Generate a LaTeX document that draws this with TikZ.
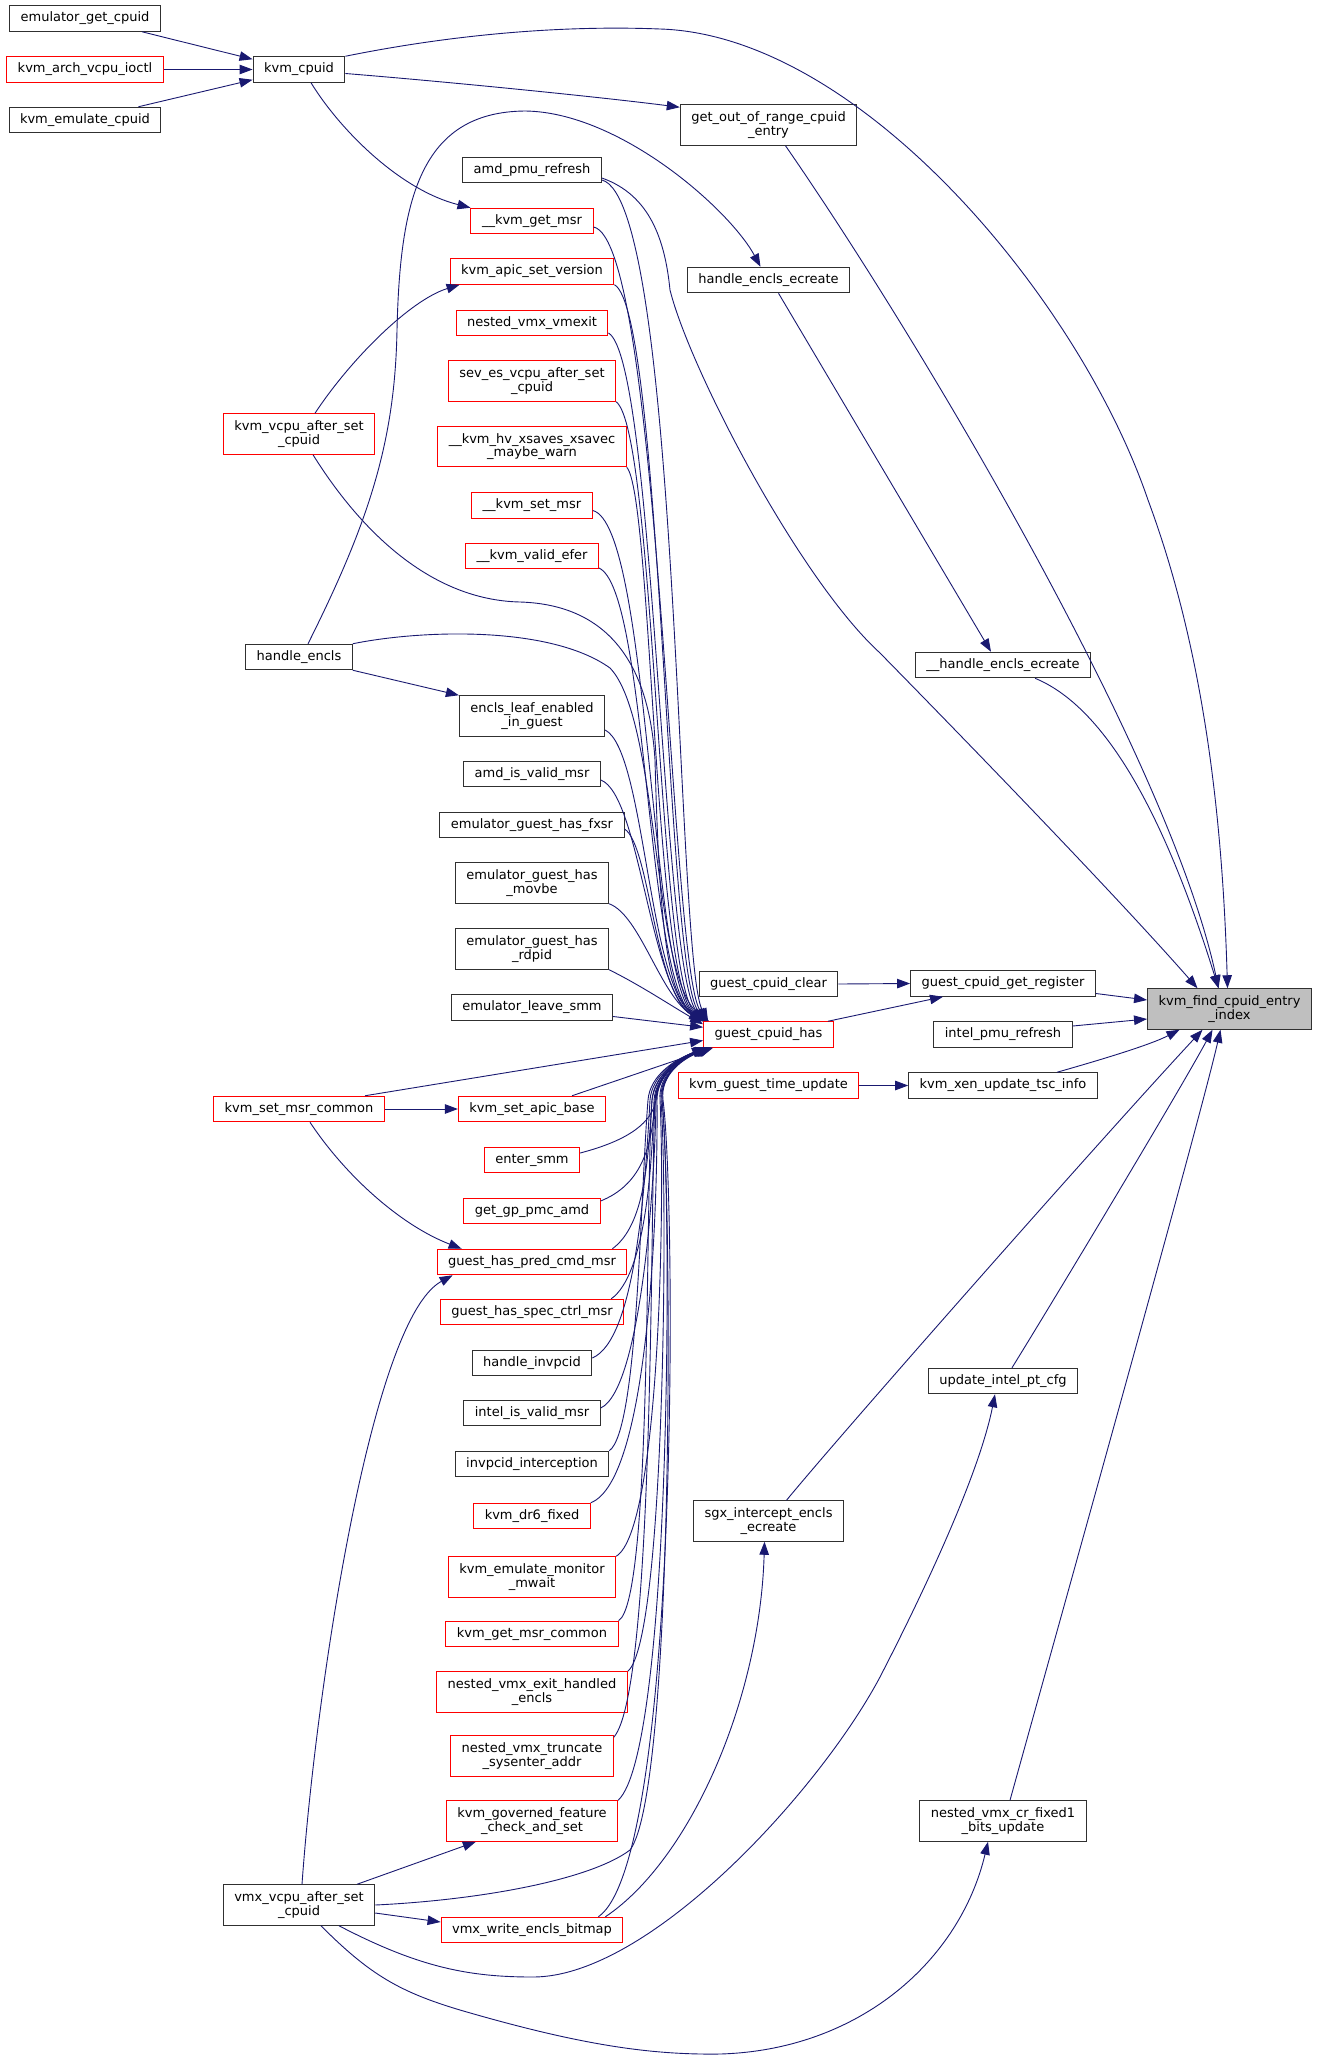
\documentclass[tikz,border=0pt]{standalone}
\usepackage{fontspec}
\setmainfont{DejaVu Sans}
\usetikzlibrary{arrows.meta,calc}
\definecolor{edgeblue}{HTML}{191970}
\definecolor{nodered}{HTML}{FF0000}
\definecolor{nodeblack}{HTML}{303030}
\definecolor{rootgray}{HTML}{BFBFBF}
\newcommand\nodefont{\fontsize{13}{13.4}\selectfont}
\tikzset{
  nb/.style={draw=nodeblack, fill=white, line width=1pt, font=\nodefont,
    inner xsep=11pt, inner ysep=0pt, minimum height=25.5pt, align=center},
  nr/.style={nb, draw=nodered},
  two/.style={minimum height=40.5pt},
  rootnode/.style={nb, fill=rootgray, two},
  e/.style={draw=edgeblue, line width=0.9pt, -{Triangle[length=13pt,width=9.5pt]}},
}
\begin{document}
\begin{tikzpicture}[x=1pt,y=-1pt]
\useasboundingbox (0,0) rectangle (1317,2058);
% column 5
\node[nb] (e1) at (85,18.5) {emulator\_get\_cpuid};
\node[nr] (e2) at (85,69.5) {kvm\_arch\_vcpu\_ioctl};
\node[nb] (e3) at (85,120) {kvm\_emulate\_cpuid};
% column 4
\node[nb] (kc) at (299,69.5) {kvm\_cpuid};
\node[nr,two] (kv) at (299,434) {kvm\_vcpu\_after\_set\\\_cpuid};
\node[nb] (he) at (299,657) {handle\_encls};
\node[nr] (ks) at (299,1109) {kvm\_set\_msr\_common};
\node[nb,two] (vv) at (299,1905) {vmx\_vcpu\_after\_set\\\_cpuid};
% column 3
\node[nb] (ap) at (532,170) {amd\_pmu\_refresh};
\node[nr] (gm) at (532,221) {\_\_kvm\_get\_msr};
\node[nr] (av) at (532,271.5) {kvm\_apic\_set\_version};
\node[nr] (nv) at (532,323) {nested\_vmx\_vmexit};
\node[nr,two] (se) at (532,381) {sev\_es\_vcpu\_after\_set\\\_cpuid};
\node[nr,two] (hv) at (532,446.5) {\_\_kvm\_hv\_xsaves\_xsavec\\\_maybe\_warn};
\node[nr] (sm) at (532,505.5) {\_\_kvm\_set\_msr};
\node[nr] (ve) at (532,556) {\_\_kvm\_valid\_efer};
\node[nb,two] (el) at (532,716) {encls\_leaf\_enabled\\\_in\_guest};
\node[nb] (ai) at (532,774) {amd\_is\_valid\_msr};
\node[nb] (fx) at (532,825) {emulator\_guest\_has\_fxsr};
\node[nb,two] (mb) at (532,883) {emulator\_guest\_has\\\_movbe};
\node[nb,two] (rd) at (532,949) {emulator\_guest\_has\\\_rdpid};
\node[nb] (ls) at (532,1007.5) {emulator\_leave\_smm};
\node[nr] (ab) at (532,1109) {kvm\_set\_apic\_base};
\node[nr] (es) at (532,1160) {enter\_smm};
\node[nr] (gp) at (532,1211) {get\_gp\_pmc\_amd};
\node[nr] (pc) at (532,1262) {guest\_has\_pred\_cmd\_msr};
\node[nr] (sc) at (532,1312) {guest\_has\_spec\_ctrl\_msr};
\node[nb] (hi) at (532,1363) {handle\_invpcid};
\node[nb] (iv) at (532,1413) {intel\_is\_valid\_msr};
\node[nb] (ii) at (532,1464) {invpcid\_interception};
\node[nr] (dr) at (532,1516) {kvm\_dr6\_fixed};
\node[nr,two] (mw) at (532,1577) {kvm\_emulate\_monitor\\\_mwait};
\node[nr] (gc) at (532,1634) {kvm\_get\_msr\_common};
\node[nr,two] (xe) at (532,1692) {nested\_vmx\_exit\_handled\\\_encls};
\node[nr,two] (tr) at (532,1756) {nested\_vmx\_truncate\\\_sysenter\_addr};
\node[nr,two] (gf) at (532,1821) {kvm\_governed\_feature\\\_check\_and\_set};
\node[nr] (wb) at (532,1930) {vmx\_write\_encls\_bitmap};
% column 2
\node[nb,two] (go) at (768.5,125) {get\_out\_of\_range\_cpuid\\\_entry};
\node[nb] (hc) at (768.5,280) {handle\_encls\_ecreate};
\node[nb] (cl) at (768.5,984) {guest\_cpuid\_clear};
\node[nr] (gh) at (768.5,1034.5) {guest\_cpuid\_has};
\node[nr] (gt) at (768.5,1085.5) {kvm\_guest\_time\_update};
\node[nb,two] (sx) at (768.5,1521) {sgx\_intercept\_encls\\\_ecreate};
% column 1
\node[nb] (hh) at (1003,665) {\_\_handle\_encls\_ecreate};
\node[nb] (gr) at (1003,983.5) {guest\_cpuid\_get\_register};
\node[nb] (ip) at (1003,1034.5) {intel\_pmu\_refresh};
\node[nb] (xu) at (1003,1085.5) {kvm\_xen\_update\_tsc\_info};
\node[nb] (ut) at (1003,1381) {update\_intel\_pt\_cfg};
\node[nb,two] (nf) at (1003,1821) {nested\_vmx\_cr\_fixed1\\\_bits\_update};
% root
\node[rootnode] (kf) at (1229.5,1009) {kvm\_find\_cpuid\_entry\\\_index};

% ---- edges: top-left cluster
\draw[e] ([xshift=-19pt]e1.south east) -- ([yshift=-3pt]kc.north west);
\draw[e] (e2.east) -- (kc.west);
\draw[e] ([xshift=-23pt]e3.north east) -- ([yshift=3pt]kc.south west);
\draw[e] ([yshift=-4pt]kc.east) .. controls (450,82) and (600,97) .. ([yshift=-3pt]go.north west);
\draw[e] ([xshift=12pt]kc.south) .. controls (340,130) and (400,190) .. (gm.north west);
\draw[e] (kc.north east) .. controls (450,35) and (560,25) .. (660,29)
  .. controls (860,35) and (1080,300) .. (1148,500)
  .. controls (1200,640) and (1222,800) .. ([xshift=-2pt]kf.north);
\draw[e] ([xshift=17pt]go.south) .. controls (920,340) and (1170,760) .. ([xshift=-11pt]kf.north);
\draw[e] ([xshift=10pt]hc.south) -- ([xshift=-12pt]hh.north);
\draw[e] ([xshift=32pt]hh.south) .. controls (1100,705) and (1160,800) .. ([xshift=-11pt]kf.north);
\draw[e] ([xshift=9pt]he.north) .. controls (370,520) and (395,440) .. (397,330)
  .. controls (400,200) and (420,112) .. (525,111)
  .. controls (620,112) and (730,210) .. ([xshift=-8pt]hc.north);
\draw[e] ([yshift=-8pt]ap.east) .. controls (650,195) and (665,240) .. (670,290)
  .. controls (690,370) and (800,580) .. (880,653)
  .. controls (980,755) and (1120,900) .. ([xshift=-32pt]kf.north);
\draw[e] ([xshift=16pt]kv.north) .. controls (350,360) and (410,300) .. ([xshift=10pt]av.south west);
\draw[e] (he.south east) -- (el.north west);

% ---- edges into guest_cpuid_has from above
\draw[e] ([yshift=-10pt]ap.east) .. controls (680,200) and (676,960) .. ([xshift=5pt]gh.north west);
\draw[e] ([yshift=-6pt]gm.east) .. controls (660,240) and (670,965) .. ([xshift=4pt]gh.north west);
\draw[e] (av.south east) .. controls (662,310) and (666,970) .. ([xshift=3pt]gh.north west);
\draw[e] ([yshift=-10pt]nv.east) .. controls (655,360) and (662,972) .. ([xshift=2pt]gh.north west);
\draw[e] (se.south east) .. controls (655,430) and (658,975) .. (gh.north west);
\draw[e] (hv.south east) .. controls (652,495) and (654,978) .. (gh.north west);
\draw[e] ([yshift=-5pt]sm.east) .. controls (650,525) and (650,980) .. (gh.north west);
\draw[e] ([yshift=-12pt]ve.east) .. controls (648,590) and (646,982) .. (gh.north west);
\draw[e] ([xshift=14pt]kv.south) .. controls (360,530) and (430,600) .. (520,602)
  .. controls (620,605) and (650,680) .. (655,760)
  .. controls (660,950) and (670,1000) .. ([xshift=3pt]gh.north west);
\draw[e] (he.north east) .. controls (420,630) and (550,625) .. (610,668)
  .. controls (660,720) and (652,980) .. ([xshift=6pt]gh.north west);
\draw[e] ([yshift=-14pt]el.east) .. controls (645,750) and (648,985) .. (gh.north west);
\draw[e] ([yshift=-6pt]ai.east) .. controls (640,795) and (650,990) .. (gh.north west);
\draw[e] ([yshift=-4pt]fx.east) .. controls (650,845) and (655,995) .. (gh.north west);
\draw[e] (mb.south east) .. controls (640,915) and (660,995) .. ([xshift=-1pt]gh.north west);
\draw[e] (rd.south east) .. controls (640,985) and (670,1005) .. ([yshift=-3pt]gh.north west);
\draw[e] ([yshift=-9pt]ls.east) -- ([yshift=-6pt]gh.north west);

% ---- right part
\draw[e] (cl.east) -- (gr.west);
\draw[e] ([xshift=-6pt]gh.north east) -- ([xshift=-60pt]gr.south);
\draw[e] ([yshift=-10pt]gr.east) -- ([yshift=9pt]kf.west);
\draw[e] ([yshift=8.5pt]ip.east) -- ([yshift=-10pt]kf.west);
\draw[e] ([xshift=54pt]xu.north) .. controls (1100,1060) and (1150,1045) .. ([xshift=-50pt]kf.south);
\draw[e] (gt.east) -- (xu.west);

% ---- edges into guest_cpuid_has from below
\draw[e] ([xshift=66pt]ks.north) -- ([yshift=-6pt]gh.west);
\draw[e] (ks.east) -- (ab.west);
\draw[e] ([xshift=11pt]ks.south) .. controls (345,1175) and (400,1225) .. ([xshift=25pt]pc.north west);
\draw[e] ([xshift=40pt]ab.north) -- ([xshift=10pt]gh.south west);
\draw[e] ([yshift=7pt]es.east) .. controls (630,1140) and (652,1122) .. (656,1100)
  .. controls (658,1075) and (680,1058) .. ([xshift=2pt]gh.south west);
\draw[e] ([yshift=10pt]gp.east) .. controls (640,1185) and (652,1150) .. (655,1100)
  .. controls (657,1075) and (679,1058) .. ([xshift=3pt]gh.south west);
\draw[e] ([xshift=-15pt]pc.north east) .. controls (645,1225) and (648,1160) .. (652,1100)
  .. controls (655,1075) and (678,1058) .. ([xshift=4pt]gh.south west);
\draw[e] ([xshift=-13pt]sc.north east) .. controls (645,1275) and (652,1170) .. (654,1100)
  .. controls (656,1075) and (679,1058) .. ([xshift=4pt]gh.south west);
\draw[e] ([yshift=5pt]hi.east) .. controls (635,1340) and (645,1190) .. (650,1100)
  .. controls (652,1075) and (677,1058) .. ([xshift=5pt]gh.south west);
\draw[e] ([yshift=5pt]iv.east) .. controls (640,1390) and (655,1190) .. (656,1100)
  .. controls (657,1075) and (680,1058) .. ([xshift=5pt]gh.south west);
\draw[e] (ii.north east) .. controls (638,1430) and (640,1200) .. (648,1100)
  .. controls (650,1075) and (676,1058) .. ([xshift=6pt]gh.south west);
\draw[e] (dr.north east) .. controls (650,1480) and (658,1200) .. (657,1100)
  .. controls (657,1075) and (680,1058) .. ([xshift=6pt]gh.south west);
\draw[e] (mw.north east) .. controls (660,1530) and (665,1200) .. (660,1100)
  .. controls (658,1075) and (681,1058) .. ([xshift=7pt]gh.south west);
\draw[e] (gc.north east) .. controls (652,1600) and (645,1200) .. (652,1100)
  .. controls (654,1075) and (678,1058) .. ([xshift=7pt]gh.south west);
\draw[e] (xe.north east) .. controls (665,1640) and (668,1200) .. (661,1100)
  .. controls (659,1075) and (682,1058) .. ([xshift=8pt]gh.south west);
\draw[e] ([yshift=-2pt]tr.north east) .. controls (655,1690) and (650,1200) .. (655,1100)
  .. controls (657,1075) and (680,1058) .. ([xshift=8pt]gh.south west);
\draw[e] (gf.north east) .. controls (672,1750) and (672,1200) .. (662,1100)
  .. controls (660,1075) and (682,1058) .. ([xshift=9pt]gh.south west);
\draw[e] ([xshift=-25pt]wb.north east) .. controls (680,1860) and (676,1200) .. (663,1100)
  .. controls (660,1075) and (683,1058) .. ([xshift=9pt]gh.south west);
\draw[e] (vv.east) .. controls (480,1900) and (590,1880) .. (630,1850)
  .. controls (675,1790) and (672,1200) .. (662,1100)
  .. controls (660,1075) and (682,1058) .. ([xshift=6pt]gh.south west);

% ---- vmx_vcpu_after_set_cpuid fan
\draw[e] ([xshift=3pt]vv.north) .. controls (315,1700) and (370,1320) .. ([xshift=16pt]pc.south west);
\draw[e] ([xshift=58pt]vv.north) -- ([xshift=30pt]gf.south west);
\draw[e] ([yshift=-8pt]vv.east) -- ([yshift=8pt]wb.west);
\draw[e] ([xshift=40pt]vv.south) .. controls (420,1968) and (470,1977) .. (533,1977)
  .. controls (650,1977) and (820,1790) .. (880,1677)
  .. controls (930,1580) and (980,1470) .. ([xshift=-8pt]ut.south);
\draw[e] ([xshift=22pt]vv.south) .. controls (370,1975) and (400,1992) .. (460,2010)
  .. controls (580,2045) and (650,2055) .. (720,2054)
  .. controls (860,2050) and (960,1960) .. ([xshift=-15pt]nf.south);
\draw[e] ([xshift=-18pt]wb.north east) .. controls (690,1860) and (760,1700) .. ([xshift=-4pt]sx.south);

% ---- into root from below
\draw[e] ([xshift=18pt]sx.north) .. controls (840,1435) and (1100,1140) .. ([xshift=-27pt]kf.south);
\draw[e] ([xshift=9pt]ut.north) .. controls (1060,1290) and (1180,1090) .. ([xshift=-17pt]kf.south);
\draw[e] ([xshift=7pt]nf.north) .. controls (1060,1620) and (1200,1120) .. ([xshift=-9pt]kf.south);
\end{tikzpicture}
\end{document}
